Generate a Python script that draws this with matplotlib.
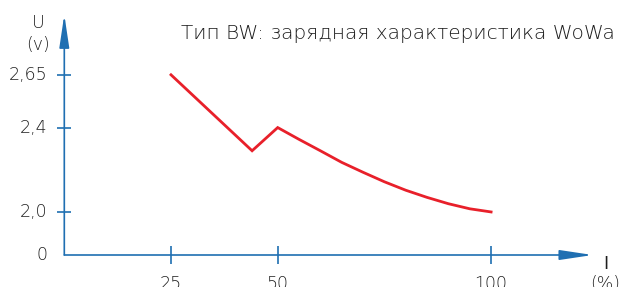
import numpy as np
import matplotlib
matplotlib.use("Agg")
import matplotlib.pyplot as plt

# ---- data ----
current_pct = [25, 44, 50, 55, 60, 65, 70, 75, 80, 85, 90, 95, 100]
voltage = [2.65, 2.29, 2.40, 2.344, 2.29, 2.235, 2.188, 2.143, 2.103, 2.069,
           2.039, 2.015, 2.00]
y_ticks = [0, 2.0, 2.4, 2.65]
y_tick_labels = ["0", "2,0", "2,4", "2,65"]
x_ticks = [25, 50, 100]
x_tick_labels = ["25", "50", "100"]
title = "Тип BW: зарядная характеристика WoWa"

BLUE = "#1f6fb2"
RED = "#e8202a"
TXT = "#1e1e1e"
FONT = ["DejaVu Sans"]

W, H = 621, 287
fig = plt.figure(figsize=(W / 100, H / 100), dpi=100)
ax = fig.add_axes([0, 0, 1, 1])
ax.set_axis_off()

# broken y scale: 0..2 compressed, linear above 2
K = 0.102
OFF = 2 - 2 * K
def fwd(v):
    v = np.asarray(v, dtype=float)
    return np.where(v < 2, v * K, v - OFF)
def inv(u):
    u = np.asarray(u, dtype=float)
    return np.where(u < 2 * K, u / K, u + OFF)

ax.set_yscale("function", functions=(fwd, inv))
px_per_x = 4.268
ax.set_xlim(-64.3 / px_per_x, (W - 64.3) / px_per_x)
ax.set_ylim(inv(-32 / 211.0), inv(255 / 211.0))

# axes with arrows
arrow = dict(arrowstyle="-|>,head_length=20,head_width=3", mutation_scale=1,
             color=BLUE, lw=1.2, shrinkA=0, shrinkB=0)
ax.annotate("", xy=(123.8, 0), xytext=(0, 0), arrowprops=arrow)
ax.annotate("", xy=(0, 2.935), xytext=(0, 0), arrowprops=arrow)

# tick marks
ax.plot(x_ticks, [0] * len(x_ticks), linestyle="none", marker="|",
        markersize=13.5, markeredgewidth=1.2, color=BLUE)
ax.plot([0] * (len(y_ticks) - 1), y_ticks[1:], linestyle="none", marker="_",
        markersize=9.5, markeredgewidth=1.2, color=BLUE)

# curve
ax.plot(current_pct, voltage, color=RED, lw=2.0, solid_joinstyle="miter")

fs = 12.5
WT = "light"
for v, lab in zip(y_ticks, y_tick_labels):
    ax.annotate(lab, xy=(0, v), xytext=(-12, 0), textcoords="offset points",
                ha="right", va="center", fontsize=fs, color=TXT, family=FONT,
                fontweight=WT)
for x, lab in zip(x_ticks, x_tick_labels):
    ax.annotate(lab, xy=(x, 0), xytext=(0, -24.5), textcoords="offset points",
                ha="center", va="baseline", fontsize=fs, color=TXT, family=FONT,
                fontweight=WT)

def ptext(x, y, s, ha="center", size=fs, weight=WT):
    fig.text(x / W, 1 - y / H, s, ha=ha, va="baseline", fontsize=size,
             color=TXT, family=FONT, fontweight=weight)

ptext(38, 28, "U")
ptext(38, 50, "(v)")
ptext(606.3, 269, "I", weight="normal")
ptext(605, 289, "(%)")
ptext(615, 39, title, ha="right", size=14.5)

fig.savefig("out.png", dpi=100)
